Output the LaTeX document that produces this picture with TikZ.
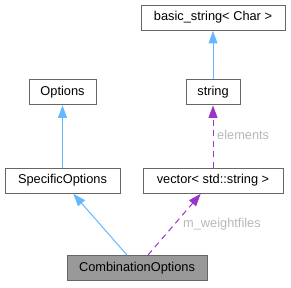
\documentclass[tikz,border=0pt]{standalone}
\usepackage{fontspec}
\setmainfont{Liberation Sans}
\usetikzlibrary{arrows.meta}
\definecolor{edgeblue}{HTML}{63B8FF}
\definecolor{edgepurple}{HTML}{9A32CD}
\definecolor{boxborder}{HTML}{666666}
\definecolor{labelgray}{HTML}{B8B8B8}
\definecolor{curfill}{HTML}{999999}
\tikzset{
  cls/.style={draw=boxborder, line width=0.9pt, fill=white, minimum height=25pt, inner sep=0pt, font=\fontsize{12.8}{14}\selectfont, text=black},
  inh/.style={draw=edgeblue, line width=1pt, -{Triangle[length=12.5pt,width=9pt]}, shorten >=0.5pt},
  usage/.style={draw=edgepurple, line width=1pt, dash pattern=on 6pt off 4.5pt, -{Triangle[length=12.5pt,width=9pt]}, shorten >=0.5pt},
  elabel/.style={text=labelgray, font=\fontsize{12.8}{14}\selectfont, inner sep=0pt, anchor=west}
}
\begin{document}
\begin{tikzpicture}[x=1pt,y=-1pt]
\useasboundingbox (0,0) rectangle (291,287);
\node[cls, minimum width=144pt] (basic) at (213,17.5) {basic\_string< Char >};
\node[cls, minimum width=54pt] (str) at (213,92) {string};
\node[cls, minimum width=67pt] (opt) at (62.5,92) {Options};
\node[cls, minimum width=115pt] (spec) at (62.5,180.5) {SpecificOptions};
\node[cls, minimum width=140pt] (vec) at (213,180.5) {vector< std::string >};
\node[cls, minimum width=140pt, fill=curfill] (comb) at (137,268) {CombinationOptions};
\draw[inh] (str.north) -- (basic.south);
\draw[inh] (spec.north) -- (opt.south);
\draw[usage] (vec.north) -- (str.south);
\draw[inh] ([xshift=-10pt]comb.north) -- ([xshift=10.5pt]spec.south);
\draw[usage] ([xshift=11pt]comb.north) -- ([xshift=-12pt]vec.south);
\node[elabel] (lelem) at (217,135) {elements};
\node[elabel] (lwf) at (183,224) {m\_weightfiles};
\end{tikzpicture}
\end{document}
